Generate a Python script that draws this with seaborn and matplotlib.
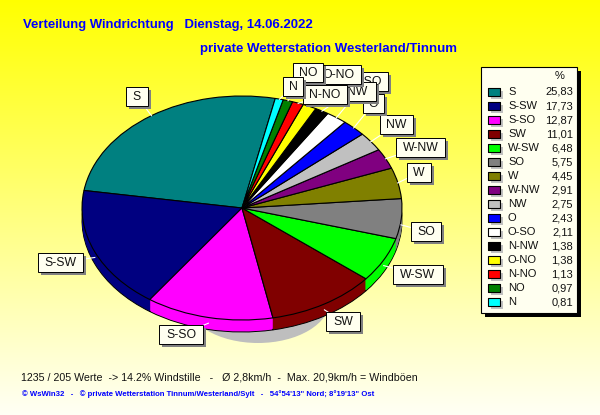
#!/usr/bin/env python3

import numpy as np
import matplotlib as mpl
mpl.use('Agg')
import matplotlib.pyplot as plt
from matplotlib.patches import Ellipse, Rectangle
from matplotlib.path import Path
import seaborn as sns

# ========================================================================
# Data
directions = ['S', 'S-SW', 'S-SO', 'SW', 'W-SW', 'SO', 'W', 'W-NW',
              'NW', 'O', 'O-SO', 'N-NW', 'O-NO', 'N-NO', 'NO', 'N']
percent = [25.83, 17.73, 12.87, 11.01, 6.48, 5.75, 4.45, 2.91,
           2.75, 2.43, 2.11, 1.38, 1.38, 1.13, 0.97, 0.81]
percent_labels = ['25,83', '17,73', '12,87', '11,01', '6,48', '5,75', '4,45', '2,91',
                  '2,75', '2,43', '2,11', '1,38', '1,38', '1,13', '0,97', '0,81']

title_1 = 'Verteilung Windrichtung   Dienstag, 14.06.2022'
title_2 = 'private Wetterstation Westerland/Tinnum'
stats = '1235 / 205 Werte  -> 14.2% Windstille   -   Ø 2,8km/h  -  Max. 20,9km/h = Windböen'
footer = ('© WsWin32   -   © private Wetterstation Tinnum/Westerland/Sylt   -   '
          '54°54\'13" Nord; 8°19\'13" Ost')

# ========================================================================
# Styles and layout (pixels of the 600x415 picture)
colors = ['#008080', '#000080', '#FF00FF', '#800000', '#00FF00', '#808080',
          '#808000', '#800080', '#C0C0C0', '#0000FF', '#FFFFFF', '#000000',
          '#FFFF00', '#FF0000', '#008000', '#00FFFF']
label_boxes = {'S': (126, 87, 22, 19), 'S-SW': (38, 253, 45, 19),
               'S-SO': (159, 325, 44, 19), 'SW': (326, 312, 34, 19),
               'W-SW': (393, 265, 50, 19), 'SO': (411, 222, 30, 19),
               'W': (407, 163, 24, 19), 'W-NW': (396, 138, 49, 19),
               'NW': (380, 115, 33, 19), 'O': (363, 94, 21, 19),
               'O-SO': (345, 72, 43, 19), 'N-NW': (326, 82, 50, 19),
               'O-NO': (316, 65, 45, 19), 'N-NO': (303, 85, 44, 19),
               'NO': (293, 63, 30, 19), 'N': (283, 77, 20, 19)}
cx, cy, rx, ry = 242, 208, 160, 112
depth = 12
start = 78
font = 'Liberation Sans'
box_fill = '#FFFFF0'

sns.set_theme(style='white')
plt.rcParams['font.family'] = [font, 'DejaVu Sans']
palette = sns.color_palette(colors)

fig = plt.figure(figsize=(6, 4.15), dpi=100)

# Pixel axes for background, texts and label boxes
ax = fig.add_axes([0, 0, 1, 1])
ax.set_xlim(0, 600)
ax.set_ylim(415, 0)
ax.axis('off')
fade = np.linspace(0, 1, 256).reshape(-1, 1)
bg = np.dstack([np.ones_like(fade), np.ones_like(fade), fade * 0.96])
ax.imshow(bg, extent=(0, 600, 415, 0), aspect='auto', zorder=0)
ax.add_patch(Ellipse((258, 300), 144, 86, fc='#BEBEBE', ec='none', zorder=1))

# Pie axes: the unit circle is squashed to the ellipse, side made from stacked pies
pie_ax = fig.add_axes([0, 0, 1, 1], zorder=2)
for off in range(depth, 0, -1):
    edge = {'edgecolor': 'black', 'linewidth': 0.7} if off == depth else {'linewidth': 0}
    pie_ax.pie(percent, colors=palette, startangle=start, counterclock=True,
               center=(0, -off / ry), wedgeprops=edge)
pie_ax.pie(percent, colors=palette, startangle=start, counterclock=True,
           wedgeprops={'edgecolor': 'black', 'linewidth': 0.8})
pie_ax.set_aspect('auto')
pie_ax.set_xlim(-cx / rx, (600 - cx) / rx)
pie_ax.set_ylim(-(415 - cy) / ry, cy / ry)
pie_ax.axis('off')
pie_ax.patch.set_visible(False)

# Overlay for leaders and label boxes
top = fig.add_axes([0, 0, 1, 1], zorder=3)
top.set_xlim(0, 600)
top.set_ylim(415, 0)
top.axis('off')
top.patch.set_visible(False)

edges = np.cumsum([0] + percent)
mids = start + (edges[:-1] + edges[1:]) / 2 / edges[-1] * 360
for name, mid in zip(directions, mids):
    x0, y0, w, h = label_boxes[name]
    px = cx + rx * 0.995 * np.cos(np.radians(mid))
    py = cy - ry * 0.995 * np.sin(np.radians(mid))
    if np.sin(np.radians(mid)) < 0:
        py += depth / 2
    top.plot([px, x0 + w / 2], [py, y0 + h / 2], color='white', lw=0.8, zorder=1,
             solid_capstyle='butt')
for i, name in enumerate(directions):
    x0, y0, w, h = label_boxes[name]
    z = 2 + i * 0.1
    top.add_patch(Rectangle((x0 + 3, y0 + 3), w, h, fc='#808080', ec='none', zorder=z))
    top.add_patch(Rectangle((x0, y0), w, h, fc=box_fill, ec='black', lw=0.7, zorder=z + 0.01))
    top.text(x0 + w / 2, y0 + h / 2 + 0.5, name, ha='center', va='center', fontsize=8.8,
             color='#111111', zorder=z + 0.02)

# Legend panel
top.add_patch(Rectangle((485, 71), 96, 246, fc='black', ec='none', zorder=5))
top.add_patch(Rectangle((481, 67), 96, 246, fc=box_fill, ec='black', lw=0.8, zorder=6))
rows = 92 + 14 * np.arange(len(directions))
key = Path([(-6, -3.5), (6, -3.5), (6, 3.5), (-6, 3.5), (-6, -3.5)], closed=True)
sns.scatterplot(x=[497] * len(rows), y=rows + 3, marker=key, s=81, color='#C0C0C0',
                linewidth=0, legend=False, ax=top, zorder=7)
sns.scatterplot(x=[494] * len(rows), y=rows, hue=directions, palette=colors, marker=key,
                s=81, edgecolor='black', linewidth=0.8, legend=False, ax=top, zorder=8)
top.set_xlim(0, 600)
top.set_ylim(415, 0)
top.text(560, 76, '%', ha='center', va='center', fontsize=8, color='#111111', zorder=9)
for y, name, val in zip(rows, directions, percent_labels):
    top.text(508, y, name, ha='left', va='center', fontsize=8, color='#111111', zorder=9)
    top.text(573, y, val, ha='right', va='center', fontsize=8, color='#111111', zorder=9)

# Titles and footer
top.text(23, 25, title_1, ha='left', va='center', fontsize=9.45, fontweight='bold',
         color='#0000FF', zorder=9)
top.text(200, 49, title_2, ha='left', va='center', fontsize=9.55, fontweight='bold',
         color='#0000FF', zorder=9)
top.text(21, 377, stats, ha='left', va='center', fontsize=7.65, color='#111111', zorder=9)
top.text(22, 394, footer, ha='left', va='center', fontsize=5.55, fontweight='bold',
         color='#0000FF', zorder=9)

fig.savefig('out.png', dpi=100)
